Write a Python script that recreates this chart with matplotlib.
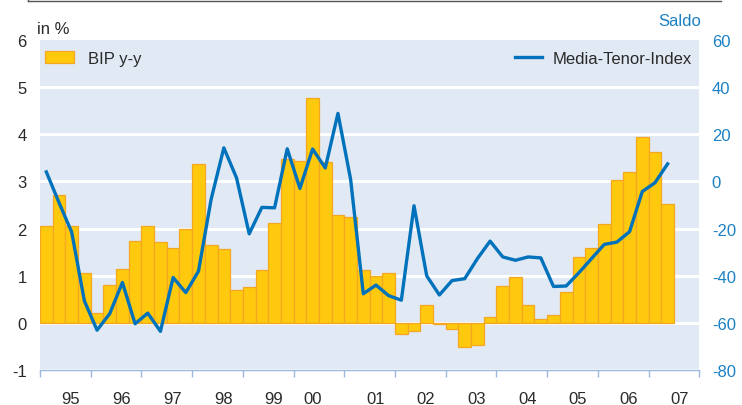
import numpy as np
import matplotlib.pyplot as plt
from matplotlib.lines import Line2D
from matplotlib.patches import Patch

plt.rcParams['font.family'] = ['Liberation Sans', 'DejaVu Sans']
plt.rcParams['axes.unicode_minus'] = False

# quarterly data, 1995 Q1 .. 2007 Q2
start_year = 1995
bip_yy = [2.06, 2.71, 2.05, 1.06,
          0.22, 0.81, 1.14, 1.73,
          2.06, 1.71, 1.59, 1.99,
          3.36, 1.66, 1.57, 0.70,
          0.76, 1.12, 2.12, 3.48,
          3.44, 4.76, 3.40, 2.29,
          2.25, 1.12, 0.99, 1.06,
          -0.24, -0.17, 0.39, -0.03,
          -0.13, -0.51, -0.47, 0.12,
          0.79, 0.98, 0.38, 0.08,
          0.17, 0.65, 1.39, 1.59,
          2.10, 3.03, 3.20, 3.94,
          3.62, 2.53]
media_tenor = [4, -9, -21.5, -50.6,
               -63, -56, -42.8, -60.3,
               -55.8, -63.5, -40.7, -47.1,
               -38, -7.5, 14.2, 1.5,
               -22.2, -11, -11.2, 13.8,
               -3, 13.7, 5.7, 28.8,
               0.8, -47.6, -43.9, -48.4,
               -50.3, -10.3, -40, -48.1,
               -42, -41.2, -32.7, -25.3,
               -32, -33.4, -32, -32.4,
               -44.5, -44.3, -38.7, -32.7,
               -26.7, -25.7, -21.3, -4.3,
               -0.6, 7.4]
year_labels = ['95', '96', '97', '98', '99', '00', '01', '02', '03', '04', '05', '06', '07']
label_pos = [0.61, 0.61, 0.61, 0.61, 0.61, 0.37, 0.61, 0.61, 0.61, 0.61, 0.61, 0.61, 0.61]

bar_col = '#FFC90E'
bar_edge = '#F5A623'
line_col = '#0072BC'
blue_txt = '#1B80C4'
txt_col = '#2A2A2A'
bg = '#E1E9F4'
fs = 12

n = len(bip_yy)
x_left = start_year + np.arange(n) * 0.25
x_mid = x_left + 0.125

fig = plt.figure(figsize=(7.42, 4.06), dpi=100)
ax = fig.add_axes([40 / 742, 1 - 371.3 / 406, (699.3 - 40) / 742, (371.3 - 40.7) / 406])
ax.set_facecolor(bg)
ax.bar(x_left, bip_yy, width=0.25, align='edge', color=bar_col, edgecolor=bar_edge, linewidth=0.9, zorder=2)
ax.set_xlim(start_year, start_year + len(year_labels))
ax.set_ylim(-1, 6)
ax.set_yticks(range(-1, 7))
for v in range(-1, 6):
    ax.axhline(v, color='white', lw=2.2, zorder=1)
ax.tick_params(axis='y', length=0, pad=9.5, labelsize=fs, labelcolor=txt_col)

years = start_year + np.arange(len(year_labels) + 1)
ax.set_xticks(years)
ax.set_xticklabels([])
ax.set_xticks([start_year + i + p for i, p in enumerate(label_pos)], minor=True)
ax.set_xticklabels(year_labels, minor=True)
ax.tick_params(axis='x', which='major', length=5, width=1, color='#9DB8DE', direction='out')
ax.tick_params(axis='x', which='minor', length=0, pad=15, labelsize=fs, labelcolor=txt_col)
for s in ['left', 'right', 'top']:
    ax.spines[s].set_visible(False)
ax.spines['bottom'].set_color('#9DB8DE')
ax.spines['bottom'].set_linewidth(1)

ax2 = ax.twinx()
ax2.plot(x_mid, media_tenor, color=line_col, lw=2.4, zorder=3)
ax2.set_ylim(-80, 60)
ax2.set_yticks(range(-80, 61, 20))
ax2.tick_params(axis='y', length=0, pad=9, labelsize=fs, labelcolor=blue_txt)
for s in ['left', 'right', 'top', 'bottom']:
    ax2.spines[s].set_visible(False)

leg1 = ax.legend([Patch(facecolor=bar_col, edgecolor=bar_edge, linewidth=0.9)], ['BIP y-y'],
                 loc='upper left', bbox_to_anchor=(0.0076, 0.967), frameon=False, fontsize=fs,
                 handlelength=1.75, handleheight=0.8, handletextpad=0.85, borderaxespad=0, borderpad=0)
leg2 = ax2.legend([Line2D([0], [0], color=line_col, lw=2.4)], ['Media-Tenor-Index'],
                  loc='upper right', bbox_to_anchor=(0.989, 0.967), frameon=False, fontsize=fs,
                  handlelength=1.6, handletextpad=0.65, borderaxespad=0, borderpad=0)
for leg in (leg1, leg2):
    for t in leg.get_texts():
        t.set_color(txt_col)

fig.text(37 / 742, 1 - 29 / 406, 'in %', fontsize=fs, color=txt_col, va='center', ha='left')
fig.text(701 / 742, 1 - 21 / 406, 'Saldo', fontsize=fs, color=blue_txt, va='center', ha='right')

# frame line at the very top
fig.add_artist(Line2D([28 / 742, 721 / 742], [1 - 2 / 406, 1 - 2 / 406], color='#555555', lw=1))
fig.add_artist(Line2D([28 / 742, 28 / 742], [1, 1 - 2 / 406], color='#555555', lw=1))

fig.savefig('out.png', dpi=100)
